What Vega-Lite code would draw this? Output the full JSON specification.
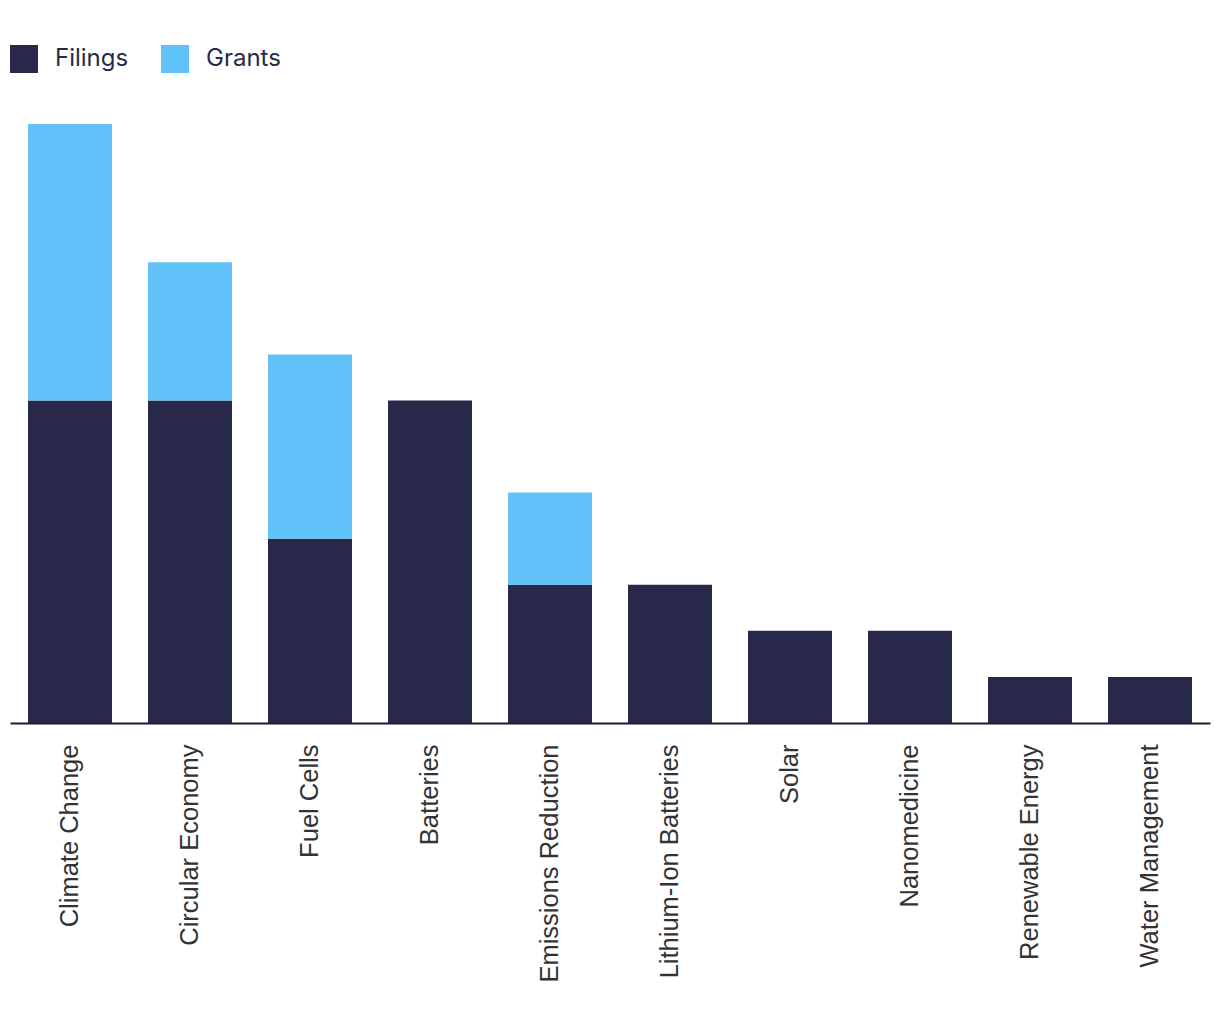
{
  "$schema": "https://vega.github.io/schema/vega-lite/v6.json",
  "autosize": {"type": "none"},
  "width": 1200,
  "height": 599,
  "padding": {"left": 10, "top": 124, "right": 10, "bottom": 313},
  "background": "white",
  "config": {"view": {"stroke": null}},
  "data": {
    "values": [
      {"category": "Climate Change", "type": "Filings", "value": 7},
      {"category": "Climate Change", "type": "Grants", "value": 6},
      {"category": "Circular Economy", "type": "Filings", "value": 7},
      {"category": "Circular Economy", "type": "Grants", "value": 3},
      {"category": "Fuel Cells", "type": "Filings", "value": 4},
      {"category": "Fuel Cells", "type": "Grants", "value": 4},
      {"category": "Batteries", "type": "Filings", "value": 7},
      {"category": "Emissions Reduction", "type": "Filings", "value": 3},
      {"category": "Emissions Reduction", "type": "Grants", "value": 2},
      {"category": "Lithium-Ion Batteries", "type": "Filings", "value": 3},
      {"category": "Solar", "type": "Filings", "value": 2},
      {"category": "Nanomedicine", "type": "Filings", "value": 2},
      {"category": "Renewable Energy", "type": "Filings", "value": 1},
      {"category": "Water Management", "type": "Filings", "value": 1}
    ]
  },
  "mark": {"type": "bar"},
  "encoding": {
    "x": {
      "field": "category",
      "type": "nominal",
      "sort": ["Climate Change", "Circular Economy", "Fuel Cells", "Batteries", "Emissions Reduction", "Lithium-Ion Batteries", "Solar", "Nanomedicine", "Renewable Energy", "Water Management"],
      "scale": {"paddingInner": 0.3, "paddingOuter": 0.15},
      "axis": {
        "title": null,
        "labelAngle": -90,
        "labelAlign": "right",
        "labelBaseline": "middle",
        "labelFont": "Liberation Sans",
        "labelFontSize": 25.5,
        "labelColor": "#333333",
        "labelPadding": 21,
        "ticks": false,
        "domainColor": "#1c1c30",
        "domainWidth": 2,
        "labelLimit": 400
      }
    },
    "y": {
      "field": "value",
      "type": "quantitative",
      "stack": "zero",
      "scale": {"domain": [0, 13], "nice": false},
      "axis": null
    },
    "color": {
      "field": "type",
      "type": "nominal",
      "scale": {"domain": ["Filings", "Grants"], "range": ["#27284a", "#61c1f9"]},
      "legend": {
        "title": null,
        "orient": "none",
        "legendX": 0,
        "legendY": -79,
        "direction": "horizontal",
        "symbolType": "square",
        "symbolSize": 784,
        "symbolStrokeWidth": 0,
        "symbolOpacity": 1,
        "labelFont": "Inter",
        "labelFontSize": 24,
        "labelColor": "#27284a",
        "labelOffset": 17,
        "columnPadding": 32
      }
    },
    "order": {"field": "type", "sort": "ascending"}
  }
}
